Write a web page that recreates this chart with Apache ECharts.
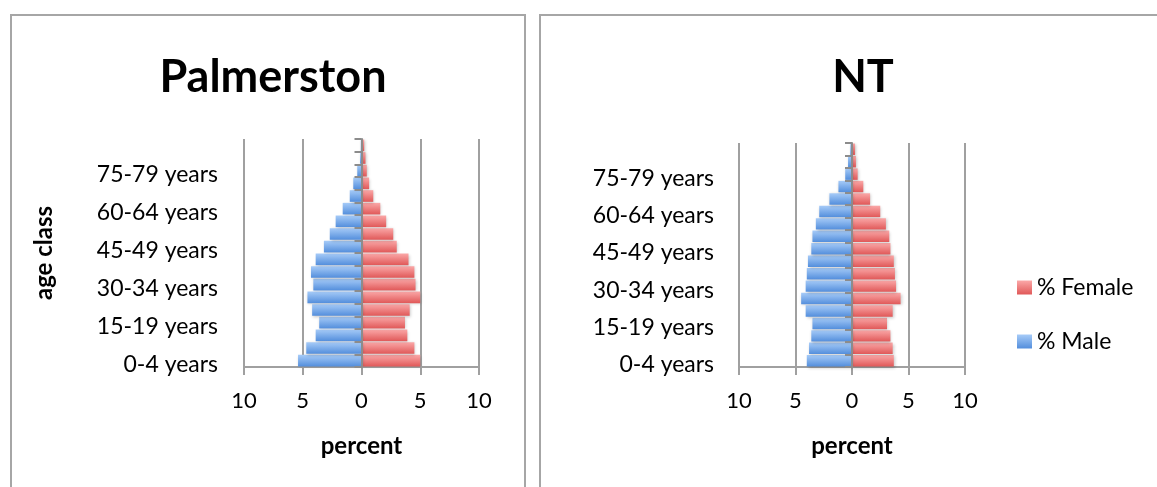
<!DOCTYPE html>
<html>
<head>
<meta charset="utf-8">
<script src="https://cdn.jsdelivr.net/npm/echarts@6/dist/echarts.min.js"></script>
<style>
  html, body { margin: 0; padding: 0; background: #fff; }
  #chart { width: 1157px; height: 487px; }
</style>
</head>
<body>
<div id="chart"></div>
<script>
// Age classes, youngest at the bottom
const ageClasses = ['0-4 years', '5-9 years', '10-14 years', '15-19 years', '20-24 years',
  '25-29 years', '30-34 years', '35-39 years', '40-44 years', '45-49 years', '50-54 years',
  '55-59 years', '60-64 years', '65-69 years', '70-74 years', '75-79 years', '80-84 years',
  '85 years and over'];

// Share of the population (%) in each age class
const palmerstonMale   = [5.4, 4.7, 3.9, 3.6, 4.2, 4.6, 4.1, 4.3, 3.9, 3.2, 2.7, 2.2, 1.6, 1.0, 0.7, 0.36, 0.12, 0.06];
const palmerstonFemale = [5.0, 4.5, 3.9, 3.7, 4.1, 5.0, 4.6, 4.5, 4.0, 3.0, 2.7, 2.1, 1.6, 1.0, 0.65, 0.45, 0.34, 0.23];
const ntMale           = [4.0, 3.8, 3.6, 3.5, 4.1, 4.5, 4.1, 4.0, 3.9, 3.6, 3.5, 3.2, 2.9, 2.0, 1.2, 0.6, 0.35, 0.15];
const ntFemale         = [3.7, 3.6, 3.4, 3.1, 3.6, 4.3, 3.9, 3.8, 3.7, 3.4, 3.3, 3.0, 2.5, 1.6, 1.0, 0.5, 0.35, 0.27];

// Value-axis ticks
const percentMin = -10, percentMax = 10, percentStep = 5;

const FONT = 'Lato, "Open Sans", sans-serif';
const GRID_LINE = '#a0a0a0';

const maleFill = new echarts.graphic.LinearGradient(0, 0, 0, 1, [
  { offset: 0, color: '#a6cbf8' },
  { offset: 1, color: '#538edc' }
]);
const femaleFill = new echarts.graphic.LinearGradient(0, 0, 0, 1, [
  { offset: 0, color: '#fba8a8' },
  { offset: 1, color: '#e05858' }
]);

function valueAxis(gridIndex) {
  return {
    type: 'value', gridIndex,
    min: percentMin, max: percentMax, interval: percentStep,
    name: 'percent', nameLocation: 'middle', nameGap: 67,
    nameTextStyle: { fontFamily: FONT, fontWeight: 'bold', fontSize: 24, color: '#000' },
    axisLine: { show: true, lineStyle: { color: GRID_LINE, width: 2 } },
    axisTick: { show: true, length: 8, lineStyle: { color: GRID_LINE, width: 2 } },
    splitLine: { show: true, lineStyle: { color: GRID_LINE, width: 2 } },
    axisLabel: {
      fontFamily: FONT, fontSize: 22, color: '#000', margin: 23,
      formatter: v => String(Math.abs(v))
    }
  };
}

function categoryAxis(gridIndex, labelMargin, withName) {
  const axis = {
    type: 'category', gridIndex, data: ageClasses, z: 5,
    axisLine: { show: true, onZero: true, lineStyle: { color: '#8c8c8c', width: 2 } },
    axisTick: { show: true, length: 7, interval: 0, lineStyle: { color: '#8c8c8c', width: 2 } },
    axisLabel: {
      interval: 2, margin: labelMargin,
      formatter: v => '{t|' + v + '}',
      rich: { t: { padding: [8, 0, 0, 0], fontFamily: FONT, fontSize: 23, color: '#000' } }
    }
  };
  if (withName) {
    Object.assign(axis, {
      name: 'age class', nameLocation: 'middle', nameRotate: 90, nameGap: 188,
      nameTextStyle: { fontFamily: FONT, fontWeight: 'bold', fontSize: 24, color: '#000' }
    });
  }
  return axis;
}

function bars(name, values, fill, axisIndex, sign, stack) {
  return {
    name, type: 'bar', stack,
    xAxisIndex: axisIndex, yAxisIndex: axisIndex,
    data: values.map(v => sign * v),
    barCategoryGap: '8%',
    itemStyle: {
      color: fill,
      shadowColor: 'rgba(0,0,0,0.22)', shadowBlur: 3, shadowOffsetX: 1, shadowOffsetY: 1
    },
    emphasis: { disabled: true }
  };
}

const chart = echarts.init(document.getElementById('chart'), null, { renderer: 'canvas' });

chart.setOption({
  animation: false,
  backgroundColor: '#fff',
  graphic: [
    { type: 'rect', shape: { x: 11, y: 15, width: 514, height: 520 },
      style: { fill: 'none', stroke: '#a6a6a6', lineWidth: 2 }, z: -1 },
    { type: 'rect', shape: { x: 540, y: 15, width: 700, height: 520 },
      style: { fill: 'none', stroke: '#a6a6a6', lineWidth: 2 }, z: -1 }
  ],
  title: [
    { text: 'Palmerston', left: 268, top: 50, textAlign: 'center',
      textStyle: { fontFamily: FONT, fontWeight: 'bold', fontSize: 45, color: '#000' } },
    { text: 'NT', left: 858, top: 50, textAlign: 'center',
      textStyle: { fontFamily: FONT, fontWeight: 'bold', fontSize: 45, color: '#000' } }
  ],
  legend: {
    orient: 'vertical', left: 1012, top: 271,
    itemWidth: 15, itemHeight: 14, itemGap: 31, icon: 'rect',
    data: ['% Female', '% Male'],
    textStyle: { fontFamily: FONT, fontSize: 23, color: '#000', lineHeight: 23 }
  },
  grid: [
    { left: 244, top: 139, width: 235, height: 228, containLabel: false, outerBoundsMode: 'none' },
    { left: 739, top: 143, width: 226, height: 224, containLabel: false, outerBoundsMode: 'none' }
  ],
  xAxis: [valueAxis(0), valueAxis(1)],
  yAxis: [categoryAxis(0, 26, true), categoryAxis(1, 25, false)],
  series: [
    bars('% Female', palmerstonFemale, femaleFill, 0, 1, 'palmerston'),
    bars('% Male', palmerstonMale, maleFill, 0, -1, 'palmerston'),
    bars('% Female', ntFemale, femaleFill, 1, 1, 'nt'),
    bars('% Male', ntMale, maleFill, 1, -1, 'nt')
  ]
});
</script>
</body>
</html>
